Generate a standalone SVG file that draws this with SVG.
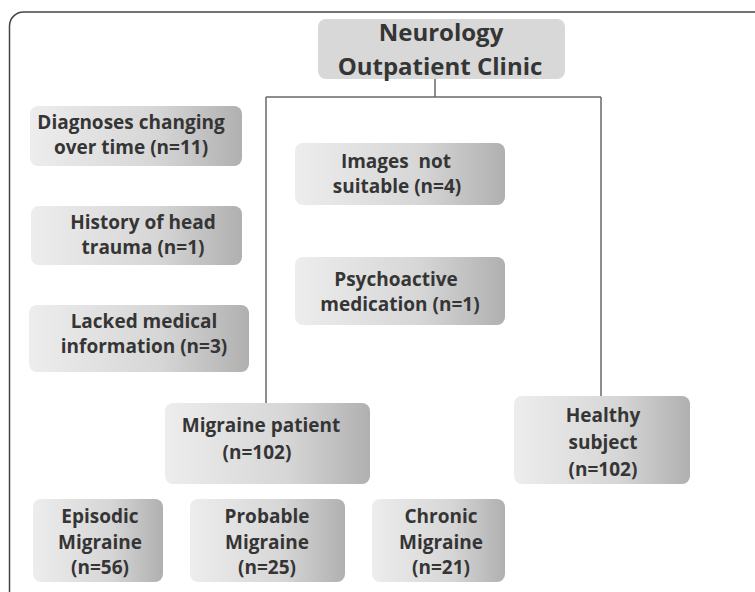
<svg xmlns="http://www.w3.org/2000/svg" width="755" height="592" viewBox="0 0 755 592">
<defs>
<linearGradient id="g" x1="0" y1="0" x2="1" y2="0">
<stop offset="0" stop-color="#ededed"/>
<stop offset="0.6" stop-color="#d6d6d6"/>
<stop offset="1" stop-color="#b0b0b0"/>
</linearGradient>
<style>
.box{fill:url(#g);}
.top{fill:#d8d8d8;}
text{font-family:"Open Sans","DejaVu Sans",sans-serif;font-weight:bold;fill:#353535;text-anchor:middle;font-size:19px;}
.big{font-size:24px;}
.ln{fill:none;stroke:#6a6a6a;stroke-width:1.5;}
</style>
</defs>
<rect x="9.5" y="12" width="760" height="600" rx="14" fill="none" stroke="#444" stroke-width="1.5"/>
<g id="connectors">
<path class="ln" d="M435 79V97M266 97H601M266 97V403M601 97V396"/>
</g>
<g id="neurology">
<rect class="top" x="318" y="19" width="247" height="60" rx="8"/>
<text class="big" x="441" y="41">Neurology</text>
<text class="big" x="440" y="75">Outpatient Clinic</text>
</g>
<g id="diagnoses">
<rect class="box" x="30" y="106" width="212" height="60" rx="8"/>
<text x="131" y="129">Diagnoses changing</text>
<text x="131" y="154">over time (n=11)</text>
</g>
<g id="history">
<rect class="box" x="31" y="206" width="211" height="59" rx="8"/>
<text x="143" y="229">History of head</text>
<text x="143" y="254">trauma (n=1)</text>
</g>
<g id="lacked">
<rect class="box" x="29" y="305" width="220" height="67" rx="8"/>
<text x="144" y="328">Lacked medical</text>
<text x="144" y="353">information (n=3)</text>
</g>
<g id="images">
<rect class="box" x="295" y="143" width="210" height="62" rx="8"/>
<text x="396" y="168" xml:space="preserve">Images  not</text>
<text x="397" y="193">suitable (n=4)</text>
</g>
<g id="psychoactive">
<rect class="box" x="295" y="257" width="210" height="68" rx="8"/>
<text x="396" y="286">Psychoactive</text>
<text x="400" y="311">medication (n=1)</text>
</g>
<g id="migraine">
<rect class="box" x="165" y="403" width="205" height="81" rx="8"/>
<text x="261" y="432">Migraine patient</text>
<text x="257" y="459">(n=102)</text>
</g>
<g id="healthy">
<rect class="box" x="514" y="396" width="176" height="88" rx="8"/>
<text x="603" y="422">Healthy</text>
<text x="603" y="449">subject</text>
<text x="603" y="476">(n=102)</text>
</g>
<g id="episodic">
<rect class="box" x="33" y="499" width="130" height="83" rx="8"/>
<text x="100" y="523">Episodic</text>
<text x="100" y="549">Migraine</text>
<text x="100" y="574">(n=56)</text>
</g>
<g id="probable">
<rect class="box" x="190" y="499" width="155" height="83" rx="8"/>
<text x="267" y="523">Probable</text>
<text x="267" y="549">Migraine</text>
<text x="267" y="574">(n=25)</text>
</g>
<g id="chronic">
<rect class="box" x="372" y="499" width="133" height="83" rx="8"/>
<text x="441" y="523">Chronic</text>
<text x="441" y="549">Migraine</text>
<text x="441" y="574">(n=21)</text>
</g>
</svg>
